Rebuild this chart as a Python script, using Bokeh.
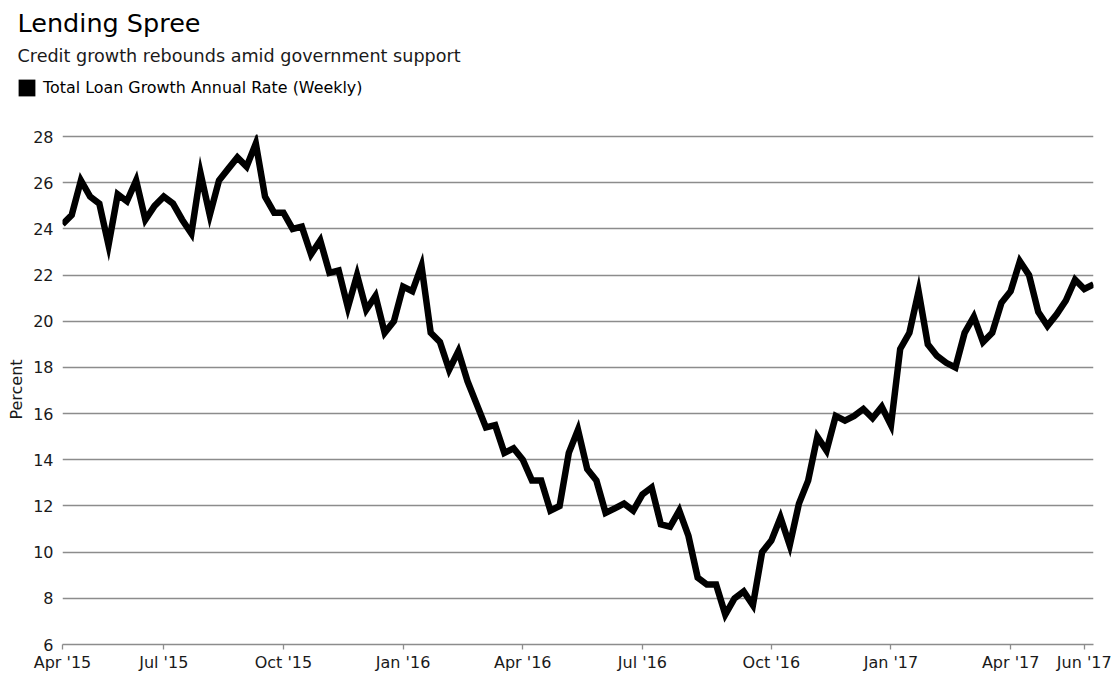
import pandas as pd
from bokeh.plotting import figure
from bokeh.layouts import column
from bokeh.models import Range1d, FixedTicker, Title, Legend, LegendItem, ColumnDataSource
from bokeh.embed import file_html
from bokeh.resources import INLINE

# Weekly total loan growth, annual rate (percent)
loan_growth = [
    24.2, 24.6, 26.1, 25.4, 25.1, 23.3, 25.5, 25.2, 26.1, 24.4,
    25.0, 25.4, 25.1, 24.4, 23.8, 26.4, 24.6, 26.1, 26.6, 27.1,
    26.7, 27.7, 25.4, 24.7, 24.7, 24.0, 24.1, 22.9, 23.5, 22.1,
    22.2, 20.6, 22.0, 20.5, 21.1, 19.5, 20.0, 21.5, 21.3, 22.4,
    19.5, 19.1, 17.9, 18.7, 17.4, 16.4, 15.4, 15.5, 14.3, 14.5,
    14.0, 13.1, 13.1, 11.8, 12.0, 14.3, 15.3, 13.6, 13.1, 11.7,
    11.9, 12.1, 11.8, 12.5, 12.8, 11.2, 11.1, 11.8, 10.7, 8.9,
    8.6, 8.6, 7.3, 8.0, 8.3, 7.7, 10.0, 10.5, 11.5, 10.3,
    12.1, 13.1, 15.0, 14.4, 15.9, 15.7, 15.9, 16.2, 15.8, 16.3,
    15.5, 18.8, 19.5, 21.3, 19.0, 18.5, 18.2, 18.0, 19.5, 20.2,
    19.1, 19.5, 20.8, 21.3, 22.6, 22.0, 20.4, 19.8, 20.3, 20.9,
    21.8, 21.4, 21.6,
]
first_week = "2015-04-17"
tick_dates = ["2015-04-17", "2015-07-03", "2015-10-02", "2016-01-01", "2016-04-01",
              "2016-07-01", "2016-10-07", "2017-01-06", "2017-04-07", "2017-06-02"]
tick_labels = ["Apr '15", "Jul '15", "Oct '15", "Jan '16", "Apr '16",
               "Jul '16", "Oct '16", "Jan '17", "Apr '17", "Jun '17"]
y_ticks = [6, 8, 10, 12, 14, 16, 18, 20, 22, 24, 26, 28]

title_text = "Lending Spree"
subtitle_text = "Credit growth rebounds amid government support"
legend_text = "Total Loan Growth Annual Rate (Weekly)"
y_label = "Percent"

dates = pd.date_range(start=first_week, periods=len(loan_growth), freq="7D")
x_ms = [float(v) / 1e6 for v in dates.asi8]
tick_ms = [float(v) / 1e6 for v in pd.to_datetime(tick_dates).asi8]

src = ColumnDataSource(dict(x=x_ms, y=loan_growth))

FONT = "DejaVu Sans"
GRID = "#8c8c8c"
TXT = "#1a1a1a"
W = 1112
HEAD_H = 112
MAIN_H = 562
NAN = float("nan")

# ---------- header: title, subtitle and legend ----------
head = figure(width=W, height=HEAD_H, output_backend="svg", toolbar_location=None, title=None,
              x_axis_type=None, y_axis_type=None, x_range=Range1d(0, 1), y_range=Range1d(0, 1),
              min_border_left=0, min_border_right=0, min_border_top=70, min_border_bottom=0)
head.frame_align = False
head.outline_line_color = None
head.grid.visible = False
head.background_fill_color = "white"
head.border_fill_color = "white"

# swatch renderer for the legend (no visible mark of its own)
swatch = ColumnDataSource(dict(l=[NAN], r=[NAN], t=[NAN], b=[NAN]))
sq = head.quad(left="l", right="r", top="t", bottom="b", source=swatch,
               fill_color="black", line_color=None)
legend = Legend(items=[LegendItem(label=legend_text, renderers=[sq])],
                location=(16, 14), orientation="horizontal",
                glyph_width=21, glyph_height=21, label_standoff=6, label_height=21,
                label_text_font=FONT, label_text_font_size="15.9px", label_text_color="black",
                margin=0, padding=0, spacing=0,
                border_line_color=None, background_fill_alpha=0)
head.add_layout(legend)

head.add_layout(Title(text=subtitle_text, text_font=FONT, text_font_size="17.6px",
                      text_font_style="normal", text_color=TXT, align="left", offset=17,
                      standoff=10), "above")
head.add_layout(Title(text=title_text, text_font=FONT, text_font_size="25.5px",
                      text_font_style="normal", text_color="black", align="left", offset=17,
                      standoff=1), "above")

# ---------- main chart ----------
p = figure(width=W, height=MAIN_H, output_backend="svg", toolbar_location=None, title=None,
           x_range=Range1d(x_ms[0], x_ms[-1]), y_range=Range1d(6, 28.09),
           min_border_left=62, min_border_right=19, min_border_top=22, min_border_bottom=29)
p.frame_align = False
p.background_fill_color = "white"
p.border_fill_color = "white"
p.outline_line_color = None

p.line("x", "y", source=src, line_color="black", line_width=6.5, line_join="miter")

# x axis
p.xaxis.ticker = FixedTicker(ticks=tick_ms)
p.xaxis.major_label_overrides = {t: l for t, l in zip(tick_ms, tick_labels)}
p.xaxis.axis_line_color = GRID
p.xaxis.axis_line_width = 1.3
p.xaxis.major_tick_line_color = GRID
p.xaxis.major_tick_line_width = 1.3
p.xaxis.major_tick_in = 0
p.xaxis.major_tick_out = 5
p.xaxis.minor_tick_line_color = None
p.xaxis.major_label_standoff = 3
p.xaxis.major_label_text_font = FONT
p.xaxis.major_label_text_font_size = "16px"
p.xaxis.major_label_text_color = TXT
p.xgrid.visible = False

# y axis
p.yaxis.ticker = FixedTicker(ticks=y_ticks)
p.yaxis.axis_line_color = None
p.yaxis.major_tick_line_color = None
p.yaxis.minor_tick_line_color = None
p.yaxis.major_tick_out = 0
p.yaxis.major_tick_in = 0
p.yaxis.major_label_standoff = 9
p.yaxis.major_label_text_font = FONT
p.yaxis.major_label_text_font_size = "16px"
p.yaxis.major_label_text_color = TXT
p.yaxis.axis_label = y_label
p.yaxis.axis_label_text_font = FONT
p.yaxis.axis_label_text_font_size = "16px"
p.yaxis.axis_label_text_font_style = "normal"
p.yaxis.axis_label_text_color = TXT
p.yaxis.axis_label_standoff = 4
p.ygrid.grid_line_color = GRID
p.ygrid.grid_line_width = 1.3

layout = column(head, p, spacing=0)
open("out.html", "w").write(file_html(layout, INLINE))
